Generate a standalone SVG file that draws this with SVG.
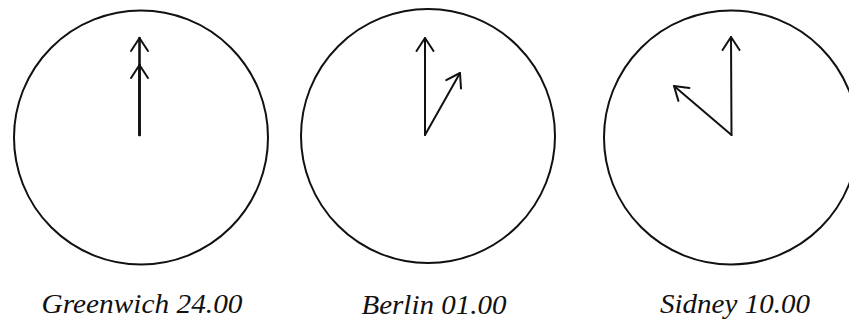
<svg xmlns="http://www.w3.org/2000/svg" width="849" height="324" viewBox="0 0 849 324">
<style>
.dial{fill:none;stroke:#111;stroke-width:2}
.hand{fill:none;stroke:#111;stroke-width:2;stroke-linecap:round}
.thick{stroke-width:2.6}
.lbl{font-family:"Liberation Serif","Times New Roman",serif;font-style:italic;font-size:28px;fill:#111;text-anchor:middle}
</style>
<defs>
<marker id="arr" markerUnits="userSpaceOnUse" markerWidth="30" markerHeight="30" viewBox="-15 -15 30 30" refX="0" refY="0" orient="auto" overflow="visible">
<path d="M-13,-8.5 L0,0 L-13,8.5" fill="none" stroke="#111" stroke-width="2" stroke-linecap="round" stroke-linejoin="round"/>
</marker>
</defs>
<rect width="849" height="324" fill="#fff"/>
<g id="greenwich">
<circle class="dial" cx="141" cy="137.5" r="127"/>
<text class="lbl" x="142" y="313" textLength="201" lengthAdjust="spacingAndGlyphs">Greenwich 24.00</text>
</g>
<g id="berlin">
<circle class="dial" cx="428" cy="136" r="127"/>
<text class="lbl" x="434" y="314" textLength="145" lengthAdjust="spacingAndGlyphs">Berlin 01.00</text>
</g>
<g id="sidney">
<circle class="dial" cx="731" cy="137.5" r="127"/>
<text class="lbl" x="735" y="313" textLength="150" lengthAdjust="spacingAndGlyphs">Sidney 10.00</text>
</g>
<g id="hands">
<path class="hand thick" d="M139.5,135 L139.5,38" marker-end="url(#arr)"/>
<path class="hand thick" d="M139.5,135 L139.5,65" marker-end="url(#arr)"/>
<path class="hand" d="M425,135 L425,38" marker-end="url(#arr)"/>
<path class="hand" d="M425,135 L460,73" marker-end="url(#arr)"/>
<path class="hand" d="M731.5,135 L731,37" marker-end="url(#arr)"/>
<path class="hand" d="M731.5,135 L674,86" marker-end="url(#arr)"/>
</g>
</svg>
